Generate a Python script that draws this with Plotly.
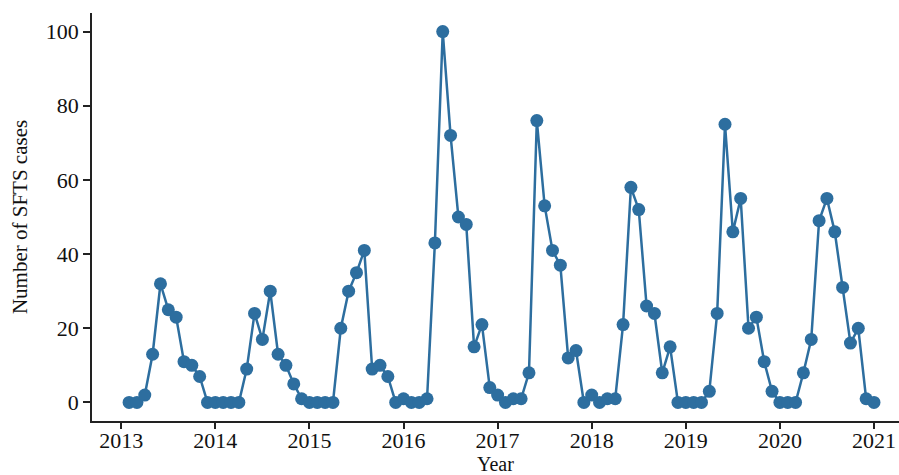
import plotly.graph_objects as go

# Monthly SFTS case counts, January to December, one list per year
years = [2013, 2014, 2015, 2016, 2017, 2018, 2019, 2020]
cases_2013 = [0, 0, 2, 13, 32, 25, 23, 11, 10, 7, 0, 0]
cases_2014 = [0, 0, 0, 9, 24, 17, 30, 13, 10, 5, 1, 0]
cases_2015 = [0, 0, 0, 20, 30, 35, 41, 9, 10, 7, 0, 1]
cases_2016 = [0, 0, 1, 43, 100, 72, 50, 48, 15, 21, 4, 2]
cases_2017 = [0, 1, 1, 8, 76, 53, 41, 37, 12, 14, 0, 2]
cases_2018 = [0, 1, 1, 21, 58, 52, 26, 24, 8, 15, 0, 0]
cases_2019 = [0, 0, 3, 24, 75, 46, 55, 20, 23, 11, 3, 0]
cases_2020 = [0, 0, 8, 17, 49, 55, 46, 31, 16, 20, 1, 0]
months = list(range(1, 13))

year_ticks = [2013, 2014, 2015, 2016, 2017, 2018, 2019, 2020, 2021]
y_ticks = [0, 20, 40, 60, 80, 100]

all_cases = [cases_2013, cases_2014, cases_2015, cases_2016,
             cases_2017, cases_2018, cases_2019, cases_2020]

# Decimal-year position for each month (month m plotted at year + m/12)
x = []
y = []
for yr, counts in zip(years, all_cases):
    for m, c in zip(months, counts):
        x.append(yr + m / 12)
        y.append(c)

color = "#2d6e9f"
family = "Liberation Serif, Times New Roman, serif"
tick_font = dict(family=family, size=22, color="#111111")
title_font = dict(family=family, size=21, color="#111111")
xtitle_font = dict(family=family, size=20, color="#111111")

fig = go.Figure(
    go.Scatter(
        x=x, y=y, mode="lines+markers",
        line=dict(color=color, width=2.5),
        marker=dict(color=color, size=13),
        cliponaxis=False,
    )
)

fig.update_layout(
    width=899, height=475,
    margin=dict(l=92, r=0, t=13, b=54),
    paper_bgcolor="white", plot_bgcolor="white",
    showlegend=False,
    font=title_font,
)

fig.update_xaxes(
    range=[2012.689, 2021.266],
    tickvals=year_ticks, ticktext=[str(v) for v in year_ticks],
    showgrid=False, zeroline=False, automargin=False,
    showline=True, linecolor="#222222", linewidth=1.5,
    ticks="outside", ticklen=6, tickwidth=1.5, tickcolor="#222222",
    ticklabelstandoff=-7,
    tickfont=tick_font,
)
fig.update_yaxes(
    range=[-5, 105],
    tickvals=y_ticks,
    showgrid=False, zeroline=False, automargin=False,
    showline=True, linecolor="#222222", linewidth=1.5,
    ticks="outside", ticklen=7, tickwidth=1.5, tickcolor="#222222",
    title=dict(text="Number of SFTS cases", standoff=12, font=title_font),
    tickfont=tick_font,
)

# x-axis title placed just under the year labels
fig.add_annotation(
    text="Year", xref="paper", yref="paper", x=0.5, y=0,
    xanchor="center", yanchor="middle", yshift=-43,
    showarrow=False, font=xtitle_font,
)

fig.write_html("out.html")
